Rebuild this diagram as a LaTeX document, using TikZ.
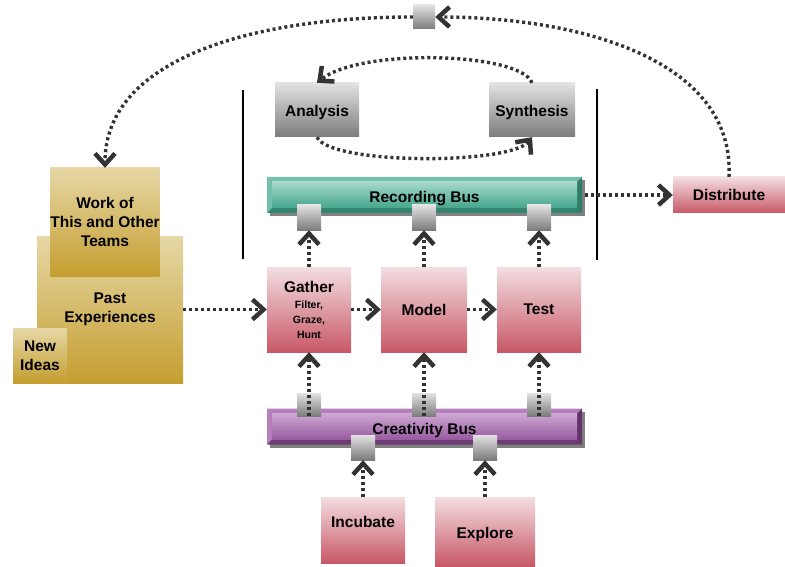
\documentclass[tikz,border=0pt]{standalone}
\usepackage{fontspec}
\setmainfont{Liberation Sans}
\usetikzlibrary{arrows.meta,shadows}
\definecolor{pinkT}{HTML}{F3DEE1}
\definecolor{pinkB}{HTML}{C85867}
\definecolor{goldT}{HTML}{E6D7A6}
\definecolor{goldB}{HTML}{C49E2F}
\definecolor{grayT}{HTML}{E2E2E2}
\definecolor{grayB}{HTML}{7C7C7C}
\definecolor{connC}{HTML}{333333}
\definecolor{tealT}{HTML}{A5D9CB}
\definecolor{tealB}{HTML}{45A58D}
\definecolor{tealL}{HTML}{74BFAB}
\definecolor{tealD}{HTML}{2F7D69}
\definecolor{purT}{HTML}{CFA8D3}
\definecolor{purB}{HTML}{975AA0}
\definecolor{purL}{HTML}{B47FBA}
\definecolor{purD}{HTML}{633469}
\newcommand{\smallfnt}{\fontsize{10.5}{13}\selectfont}
\tikzset{
  box/.style={inner sep=0pt, align=center, text=black,
    font=\bfseries\fontsize{15.5}{19}\selectfont},
  pinkbox/.style={box, top color=pinkT, bottom color=pinkB},
  goldbox/.style={box, top color=goldT, bottom color=goldB},
  graybox/.style={box, top color=grayT, bottom color=grayB},
  connsq/.style={inner sep=0pt, minimum width=24pt, minimum height=25pt,
    top color=grayT, bottom color=grayB},
  flow/.style={draw=connC, line width=3.4pt, dash pattern=on 3pt off 3pt,
    -{Straight Barb[length=11pt,width=20pt,line width=4.5pt]}},
  bus/.style n args={4}{box, minimum width=315pt, minimum height=36pt,
    general shadow={fill=gray, shadow xshift=3pt, shadow yshift=-3pt},
    path picture={
      \fill[#3] (path picture bounding box.north west) -- (path picture bounding box.north east)
        -- ([shift={(-5pt,-5pt)}]path picture bounding box.north east)
        -- ([shift={(5pt,-5pt)}]path picture bounding box.north west) -- cycle;
      \fill[#3] (path picture bounding box.north west) -- ([shift={(5pt,-5pt)}]path picture bounding box.north west)
        -- ([shift={(5pt,5pt)}]path picture bounding box.south west) -- (path picture bounding box.south west) -- cycle;
      \fill[#4!80!#2] (path picture bounding box.south west) -- ([shift={(5pt,5pt)}]path picture bounding box.south west)
        -- ([shift={(-5pt,5pt)}]path picture bounding box.south east) -- (path picture bounding box.south east) -- cycle;
      \fill[#4] (path picture bounding box.north east) -- (path picture bounding box.south east)
        -- ([shift={(-5pt,5pt)}]path picture bounding box.south east)
        -- ([shift={(-5pt,-5pt)}]path picture bounding box.north east) -- cycle;
      \shade[top color=#1, bottom color=#2] ([shift={(5pt,-5pt)}]path picture bounding box.north west)
        rectangle ([shift={(-5pt,5pt)}]path picture bounding box.south east);
    }},
  vline/.style={draw=black, line width=2pt}
}
\begin{document}
\begin{tikzpicture}[x=1pt,y=-1pt]
\useasboundingbox (0,0) rectangle (785,567);
% buses
\node[bus={tealT}{tealB}{tealL}{tealD}, text height=18pt, text depth=3pt] (recbus) at (424.5,195) {Recording Bus};
\node[bus={purT}{purB}{purL}{purD}, text height=19pt, text depth=3pt] (creabus) at (424.5,426.5) {Creativity Bus};
% connector squares
\node[connsq, minimum width=22pt, minimum height=24pt] (topc) at (424,17) {};
\node[connsq] (rc1) at (309,217.5) {};
\node[connsq] (rc2) at (424,217.5) {};
\node[connsq] (rc3) at (539,217.5) {};
\node[connsq, minimum height=23pt] (cc1) at (309,404.5) {};
\node[connsq, minimum height=23pt] (cc2) at (424,404.5) {};
\node[connsq, minimum height=23pt] (cc3) at (539,404.5) {};
\node[connsq] (cb1) at (363,447.5) {};
\node[connsq] (cb2) at (485,447.5) {};
% gray boxes
\node[graybox, minimum width=84pt, minimum height=54pt, text height=16pt, text depth=3pt] (analysis) at (317,110) {Analysis};
\node[graybox, minimum width=86pt, minimum height=54pt, text height=16pt, text depth=3pt] (synthesis) at (532,110) {Synthesis};
% pink boxes
\node[pinkbox, minimum width=84pt, minimum height=85pt] (gather) at (309,309.5)
  {Gather\\[-3pt]\smallfnt Filter,\\[-4pt]\smallfnt Graze,\\[-4pt]\smallfnt Hunt};
\node[pinkbox, minimum width=86pt, minimum height=85pt] (model) at (424,309.5) {Model};
\node[pinkbox, minimum width=84pt, minimum height=85pt] (test) at (539,309.5) {Test};
\node[pinkbox, minimum width=84pt, minimum height=66pt, text depth=17pt] (incubate) at (363,530) {Incubate};
\node[pinkbox, minimum width=100pt, minimum height=69pt, text height=16pt, text depth=3pt] (explore) at (485,531.5) {Explore};
\node[pinkbox, minimum width=112pt, minimum height=36pt] (distribute) at (729,195) {Distribute};
% gold boxes
\node[goldbox, minimum width=146pt, minimum height=147pt] (past) at (110,309.5) {Past\\Experiences};
\node[goldbox, minimum width=108pt, minimum height=108pt] (work) at (105,222) {Work of\\This and Other\\Teams};
\node[goldbox, minimum width=54pt, minimum height=55pt] (newideas) at (40,355.5) {New\\Ideas};
% vertical bars
\draw[vline] (243,90) -- (243,259);
\draw[vline] (597,89) -- (597,260);
% connectors
\draw[flow] (past.east) -- (gather.west);
\draw[flow] (gather.east) -- (model.west);
\draw[flow] (model.east) -- (test.west);
\draw[flow] (gather.north) -- (rc1.south);
\draw[flow] (model.north) -- (rc2.south);
\draw[flow] (test.north) -- (rc3.south);
\draw[flow] (cc1.south) -- (gather.south);
\draw[flow] (cc2.south) -- (model.south);
\draw[flow] (cc3.south) -- (test.south);
\draw[flow] (incubate.north) -- (cb1.south);
\draw[flow] (explore.north) -- (cb2.south);
\draw[flow] ([xshift=3pt]recbus.east) -- (distribute.west);
\draw[flow] (distribute.north) .. controls (735,60) and (580,17) .. (topc.east);
\draw[flow] (topc.west) .. controls (250,17) and (105,60) .. (work.north);
\draw[flow] (synthesis.north) .. controls (520,52) and (360,48) .. (analysis.north);
\draw[flow] (analysis.south) .. controls (330,165) and (510,165) .. (synthesis.south);
\end{tikzpicture}
\end{document}
